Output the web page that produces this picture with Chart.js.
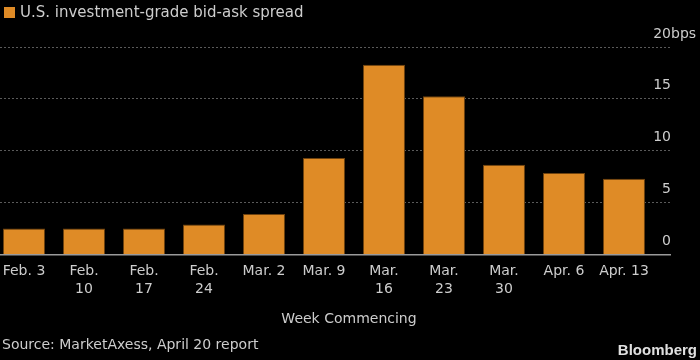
<!DOCTYPE html>
<html>
<head>
<meta charset="utf-8">
<script src="https://cdn.jsdelivr.net/npm/chart.js@4"></script>
<style>
  html, body { margin: 0; padding: 0; background: #000; }
  #wrap { width: 700px; height: 360px; position: relative; }
</style>
</head>
<body>
<div id="wrap"><canvas id="myChart" width="700" height="360"></canvas></div>
<script>
const weeks = [['Feb. 3'], ['Feb.', '10'], ['Feb.', '17'], ['Feb.', '24'], ['Mar. 2'], ['Mar. 9'],
    ['Mar.', '16'], ['Mar.', '23'], ['Mar.', '30'], ['Apr. 6'], ['Apr. 13']];
const spread = [2.5, 2.5, 2.5, 2.9, 3.9, 9.3, 18.3, 15.25, 8.65, 7.85, 7.3];
const yTicks = [0, 5, 10, 15, 20];

const orange = '#df8b26';
const textColor = '#cdcdcd';
const font = 'DejaVu Sans';

// texts and y labels drawn on the canvas, y labels sit above their gridline
const overlay = {
    id: 'overlay',
    afterDraw(chart) {
        const ctx = chart.ctx;
        const y = chart.scales.y;
        ctx.save();
        ctx.fillStyle = textColor;
        ctx.textBaseline = 'alphabetic';
        ctx.font = '14px "' + font + '"';
        yTicks.forEach(v => {
            const py = y.getPixelForValue(v) - 9.5;
            ctx.textAlign = 'right';
            ctx.fillText(String(v), 671, py);
            if (v === 20) {
                ctx.textAlign = 'left';
                ctx.fillText('bps', 671, py);
            }
        });

        // legend
        ctx.fillStyle = orange;
        ctx.fillRect(4, 7, 11, 11);
        ctx.fillStyle = textColor;
        ctx.textAlign = 'left';
        ctx.font = '15px "' + font + '"';
        ctx.fillText('U.S. investment-grade bid-ask spread', 20, 17);

        ctx.font = '14px "' + font + '"';
        ctx.textAlign = 'center';
        ctx.fillText('Week Commencing', 349, 323);
        ctx.textAlign = 'left';
        ctx.fillText('Source: MarketAxess, April 20 report', 2, 349);

        ctx.fillStyle = '#e0e0e0';
        ctx.font = 'bold 15px "Liberation Sans"';
        ctx.textAlign = 'right';
        ctx.fillText('Bloomberg', 697, 355);
        ctx.restore();
    }
};

const ctx = document.getElementById('myChart').getContext('2d');
const myChart = new Chart(ctx, {
    type: 'bar',
    data: {
        datasets: [{
            data: spread.map((v, i) => ({ x: i, y: v })),
            backgroundColor: orange,
            borderColor: '#6e420f',
            borderWidth: 1,
            barPercentage: 0.7,
            categoryPercentage: 1
        }]
    },
    options: {
        responsive: false,
        animation: false,
        layout: { padding: { top: 47, right: 0, left: 0, bottom: 0 } },
        plugins: { legend: { display: false }, tooltip: { enabled: false } },
        scales: {
            x: {
                type: 'linear',
                offset: false,
                min: -0.4,
                max: 10.767,
                afterBuildTicks(scale) {
                    scale.ticks = weeks.map((w, i) => ({ value: i }));
                },
                afterFit(scale) { scale.height = 105.5; },
                grid: { display: false },
                border: { color: '#9a9a9a', width: 1.5 },
                ticks: {
                    autoSkip: false,
                    maxRotation: 0,
                    padding: 0,
                    color: textColor,
                    font: { family: font, size: 14, lineHeight: 1.3 },
                    callback: (value) => weeks[value]
                }
            },
            y: {
                position: 'right',
                min: 0,
                max: 20,
                afterFit(scale) { scale.width = 30; },
                afterBuildTicks(scale) {
                    scale.ticks = yTicks.map(v => ({ value: v }));
                },
                grid: { color: '#5a5a5a', lineWidth: 1, drawTicks: false },
                border: { display: false, dash: [2, 2] },
                ticks: { display: false }
            }
        }
    },
    plugins: [overlay]
});
</script>
</body>
</html>
